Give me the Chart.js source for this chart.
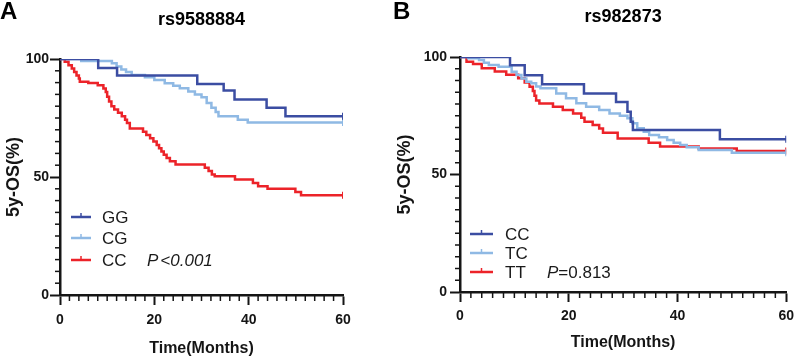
<!DOCTYPE html>
<html>
<head>
<meta charset="utf-8">
<script src="https://cdn.jsdelivr.net/npm/chart.js@4.4.1/dist/chart.umd.min.js"></script>
<style>
  html, body { margin: 0; padding: 0; background: #fff; }
  #wrap { position: relative; width: 800px; height: 361px; }
  #boxA { position: absolute; left: 0; top: 0; }
  #boxB { position: absolute; left: 385px; top: 0; }
</style>
</head>
<body>
<div id="wrap">
  <div id="boxA"><canvas id="chartA" width="385" height="361"></canvas></div>
  <div id="boxB"><canvas id="chartB" width="415" height="361"></canvas></div>
</div>
<script>
// panel A - rs9588884
const aGG_t = [0, 8.1, 12.1, 29.1, 34.7, 37.0, 43.8, 47.8, 60];
const aGG_s = [100, 96.2, 93.0, 89.4, 86.7, 82.8, 79.3, 75.7, 75.7];

const aCG_t = [0, 4.5, 11, 12, 13, 14, 15.2, 18, 20, 22.2, 24, 25.4, 27.2, 28.6, 30, 31.1, 32.1, 33, 33.6, 37.7, 39.8, 60];
const aCG_s = [100, 99.2, 98.2, 96.8, 95.5, 94.5, 93.2, 92.3, 91.1, 89.7, 88.7, 87.6, 86.2, 85, 83.8, 81.4, 79.3, 77.5, 75.7, 74.3, 73.1, 73.1];

const aCC_t = [0, 1, 1.8, 2.5, 3, 3.5, 4, 4.2, 6, 8, 9.2, 9.7, 10, 10.4, 10.9, 11.5, 12.3, 13.1, 13.8, 14.2, 14.8, 17.6, 18.3, 19.1, 19.8, 20.5, 21, 21.5, 22, 22.6, 23.3, 24.5, 30.7, 31.5, 32.2, 32.8, 37.1, 40.9, 42, 44, 49.9, 51.1, 60];
const aCC_s = [100, 98.8, 97.4, 96, 94.5, 93, 91.7, 90.4, 89.8, 88.9, 87.5, 86, 84, 82, 80, 78.6, 77.2, 75.7, 74.3, 72.9, 70.5, 69.2, 67.8, 66.4, 65, 63.6, 62.2, 60.8, 59.4, 58, 56.7, 55.3, 53.9, 52.5, 51.1, 50.3, 48.9, 47.5, 46.1, 45, 43.6, 42.3, 42.3];

// panel B - rs982873
const bCC_t = [0, 9.2, 11.9, 15.1, 22.8, 28.7, 30.8, 31.4, 31.8, 47.8, 60];
const bCC_s = [100, 96.5, 92.2, 88.4, 84.5, 80.8, 76.7, 72.5, 68.9, 65, 65];

const bTC_t = [0, 1.5, 3.5, 4.4, 5.3, 7.1, 9.5, 10.4, 11.3, 12.2, 13.1, 14, 14.8, 17.7, 19.5, 21.4, 23.2, 25.6, 27.5, 29.4, 30.8, 31.7, 32.6, 33.8, 34.8, 36.6, 38.1, 39.3, 40.5, 41.7, 43.9, 50, 60];
const bTC_s = [100, 99.5, 98.7, 97.6, 96.6, 95.9, 93.7, 92.3, 90.9, 89.5, 88.8, 87.4, 86.7, 84.5, 82.4, 80.3, 78.8, 77.4, 76, 75, 73.9, 71.8, 69.7, 68.2, 66.8, 65.8, 64.7, 63.5, 62.6, 61.6, 60.4, 59.3, 59.3];

const bTT_t = [0, 1.2, 2.4, 4, 6.4, 8.5, 10.7, 11.9, 12.8, 13.4, 13.7, 14, 14.6, 17.1, 18.9, 20.8, 22.3, 22.9, 24.4, 25.6, 26.3, 29, 34.7, 36.8, 43.9, 50.9, 60];
const bTT_s = [100, 98, 97, 95.2, 93.8, 92.4, 91, 89.2, 87.3, 85.5, 83.5, 81.5, 80.2, 78.8, 77.4, 76, 74.1, 72.5, 71.1, 69.6, 67.8, 65.3, 63.5, 61.9, 61.1, 60, 60];

const xTicks = [0, 20, 40, 60];
const yTicks = [0, 50, 100];
const xMinorStep = 2;
const yMinorStep = 5;

const DARK = "#3b4da2";
const LIGHT = "#8fb9e4";
const RED = "#ec2329";
const INK = "#151515";
const FONT = "Arial, 'Liberation Sans', sans-serif";

function km(label, times, surv, color) {
  const last = times.length - 1;
  return {
    label: label,
    data: times.map((t, i) => ({ x: t, y: surv[i] })),
    borderColor: color,
    borderWidth: 2.5,
    stepped: true,
    fill: false,
    pointStyle: "line",
    rotation: 90,
    pointRadius: (ctx) => (ctx.dataIndex === last ? 3.5 : 0),
    pointHoverRadius: 0,
    pointBorderColor: color,
    pointBorderWidth: 2,
  };
}

// letters, titles, minor ticks and legend
const decor = {
  id: "decor",
  afterDraw(chart, args, o) {
    const ctx = chart.ctx;
    const xs = chart.scales.x, ys = chart.scales.y;
    const area = chart.chartArea;
    ctx.save();

    ctx.strokeStyle = INK;
    ctx.lineWidth = 1.5;
    for (let v = xMinorStep; v < 60; v += xMinorStep) {
      if (xTicks.includes(v)) continue;
      const px = xs.getPixelForValue(v);
      ctx.beginPath(); ctx.moveTo(px, area.bottom); ctx.lineTo(px, area.bottom + 6); ctx.stroke();
    }
    for (let v = yMinorStep; v < 100; v += yMinorStep) {
      if (yTicks.includes(v)) continue;
      const py = ys.getPixelForValue(v);
      ctx.beginPath(); ctx.moveTo(area.left - 5, py); ctx.lineTo(area.left, py); ctx.stroke();
    }

    ctx.fillStyle = "#000";
    ctx.textBaseline = "top";
    ctx.textAlign = "left";
    ctx.font = "bold 24px " + FONT;
    ctx.fillText(o.letter, o.letterX, 0);

    ctx.textBaseline = "middle";
    ctx.textAlign = "center";
    ctx.font = "bold 18px " + FONT;
    ctx.fillText(o.title, (area.left + area.right) / 2, o.titleY);

    ctx.textAlign = "left";
    ctx.font = "17px " + FONT;
    chart.data.datasets.forEach((ds, i) => {
      const y = o.legY[i];
      ctx.strokeStyle = ds.borderColor;
      ctx.lineWidth = 2.5;
      ctx.beginPath(); ctx.moveTo(o.legX1, y); ctx.lineTo(o.legX2, y); ctx.stroke();
      const mx = (o.legX1 + o.legX2) / 2;
      ctx.lineWidth = 1.5;
      ctx.beginPath(); ctx.moveTo(mx, y); ctx.lineTo(mx, y - 4); ctx.stroke();
      ctx.fillStyle = "#1a1a1a";
      ctx.fillText(ds.label, o.legTextX, y + 1);
    });

    const py = o.legY[2] + 1;
    ctx.font = "italic 17px " + FONT;
    ctx.fillText("P", o.pX, py);
    const w = ctx.measureText("P").width;
    ctx.font = (o.pItalic ? "italic " : "") + "17px " + FONT;
    ctx.fillText(o.pRest, o.pX + w + o.pGap, py);
    ctx.restore();
  },
};

function makeChart(id, datasets, cfg) {
  return new Chart(document.getElementById(id), {
    type: "line",
    data: { datasets: datasets },
    plugins: [decor],
    options: {
      responsive: false,
      animation: false,
      layout: { padding: { top: cfg.top, right: cfg.right, bottom: 0, left: 0 } },
      plugins: {
        legend: { display: false },
        tooltip: { enabled: false },
        decor: cfg.decor,
      },
      scales: {
        x: {
          type: "linear",
          min: 0,
          max: 60,
          afterFit: (s) => { s.height = cfg.xHeight; },
          ticks: { stepSize: 20, color: INK, padding: cfg.xPad, font: { family: FONT, size: 14, weight: "bold" } },
          grid: { drawOnChartArea: false, tickLength: 10, tickWidth: 2, tickColor: INK },
          border: { color: INK, width: 2.5 },
          title: { display: true, text: "Time(Months)", color: INK, padding: { top: 0, bottom: cfg.xTitlePad }, font: { family: FONT, size: 16, weight: "bold" } },
        },
        y: {
          min: 0,
          max: 100,
          afterFit: (s) => { s.width = cfg.yWidth; },
          ticks: { stepSize: 50, color: INK, padding: cfg.yPad, font: { family: FONT, size: 14, weight: "bold" } },
          grid: { drawOnChartArea: false, tickLength: 10, tickWidth: 2, tickColor: INK },
          border: { color: INK, width: 2.5 },
          title: { display: true, text: "5y-OS(%)", color: INK, padding: { top: cfg.yTitlePad, bottom: 0 }, font: { family: FONT, size: 18, weight: "bold" } },
        },
      },
    },
  });
}

makeChart("chartA", [
  km("GG", aGG_t, aGG_s, DARK),
  km("CG", aCG_t, aCG_s, LIGHT),
  km("CC", aCC_t, aCC_s, RED),
], {
  top: 59, right: 42, xHeight: 66, yWidth: 60, xPad: 7, yPad: 1, xTitlePad: 3, yTitlePad: 3,
  decor: { letter: "A", letterX: 0, title: "rs9588884", titleY: 20, legY: [217, 238, 260], legX1: 71, legX2: 91, legTextX: 102, pX: 147, pRest: "<0.001", pItalic: true, pGap: 2 },
});

makeChart("chartB", [
  km("CC", bCC_t, bCC_s, DARK),
  km("TC", bTC_t, bTC_s, LIGHT),
  km("TT", bTT_t, bTT_s, RED),
], {
  top: 57, right: 12, xHeight: 69, yWidth: 75, xPad: 6, yPad: 3, xTitlePad: 9, yTitlePad: 9,
  decor: { letter: "B", letterX: 8, title: "rs982873", titleY: 17, legY: [234, 253, 272], legX1: 85, legX2: 108, legTextX: 120, pX: 162, pRest: "=0.813", pItalic: false, pGap: 0 },
});
</script>
</body>
</html>
